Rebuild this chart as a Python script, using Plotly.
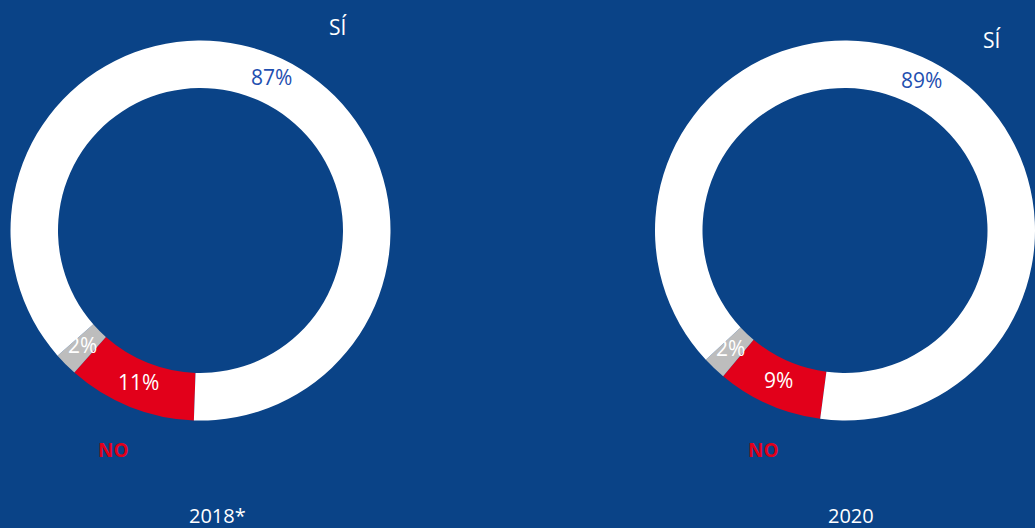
import math
import plotly.graph_objects as go

categories = ["NO", "NS/NC", "SÍ"]
values_2018 = [11, 2, 87]
values_2020 = [9, 2, 89]
years = ["2018*", "2020"]

W, H = 1035, 528
BG = "#0a4387"
RED = "#e2001a"
GREY = "#bdbdbd"
WHITE = "#ffffff"
BLUE_TXT = "#1f4fb0"
FONT = "Open Sans"
HOLE = 0.75
R = 190
TXT_COLORS = [WHITE, WHITE, BLUE_TXT]

def dom(cx, cy, r):
    return dict(x=[(cx - r) / W, min((cx + r) / W, 1.0)],
                y=[(H - cy - r) / H, (H - cy + r) / H])

def ann(text, x, y, color, size=21, bold=False):
    fig.add_annotation(x=x / W, y=1 - y / H, xref="paper", yref="paper",
                       text=f"<b>{text}</b>" if bold else text, showarrow=False,
                       font=dict(family=FONT, size=size, color=color),
                       xanchor="center", yanchor="middle")

fig = go.Figure()
for vals, (cx, cy), rot in [(values_2018, (200.5, 230.5), 182),
                            (values_2020, (845, 230.5), 187.5)]:
    fig.add_trace(go.Pie(
        labels=categories, values=vals, sort=False, direction="clockwise",
        rotation=rot, hole=HOLE, domain=dom(cx, cy, R),
        marker=dict(colors=[RED, GREY, WHITE], line=dict(width=0)),
        textinfo="none", showlegend=False, hoverinfo="label+percent",
    ))
    # percentage labels at each slice's mid-angle, in the middle of the ring
    total = sum(vals)
    rm = R * (1 + HOLE) / 2
    for i, v in enumerate(vals):
        mid = math.radians(rot + 360 * (sum(vals[:i]) + v / 2) / total)
        ann(f"{v}%", cx + rm * math.sin(mid), cy - rm * math.cos(mid) - 3,
            TXT_COLORS[i], 21)

ann("SÍ", 338, 27, WHITE, 21)
ann("SÍ", 992, 40, WHITE, 21)
ann(categories[0], 113, 450, RED, 19, bold=True)
ann(categories[0], 763, 450, RED, 19, bold=True)
ann(years[0], 217, 515, WHITE, 20)
ann(years[1], 851, 515, WHITE, 20)

fig.update_layout(
    width=W, height=H, margin=dict(l=0, r=0, t=0, b=0),
    paper_bgcolor=BG, plot_bgcolor=BG,
    font=dict(family=FONT),
)
fig.write_html("out.html", config={"displayModeBar": False},
               post_script="document.body.style.margin='0';document.body.style.overflow='hidden';")
